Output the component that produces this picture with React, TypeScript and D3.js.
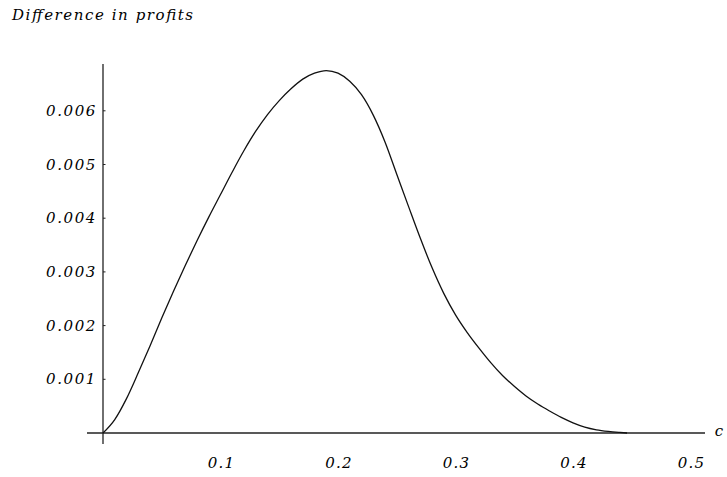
import { useEffect, useRef } from "react";
import * as d3 from "d3";

// curve: c and difference in profits (in units of 0.001)
const cValues = [
  0, 0.01, 0.02, 0.03, 0.04, 0.05, 0.06, 0.07, 0.08, 0.09,
  0.1, 0.11, 0.12, 0.13, 0.14, 0.15, 0.16, 0.17, 0.18, 0.19,
  0.2, 0.21, 0.22, 0.23, 0.24, 0.25, 0.26, 0.27, 0.28, 0.29,
  0.3, 0.31, 0.32, 0.33, 0.34, 0.35, 0.36, 0.37, 0.38, 0.39,
  0.4, 0.41, 0.42, 0.43, 0.44, 0.446,
];
const profitDiff = [
  0, 0.25, 0.64, 1.12, 1.62, 2.14, 2.64, 3.12, 3.58, 4.02,
  4.44, 4.86, 5.26, 5.62, 5.93, 6.19, 6.41, 6.59, 6.7, 6.75,
  6.7, 6.55, 6.3, 5.92, 5.42, 4.82, 4.22, 3.63, 3.08, 2.6,
  2.2, 1.87, 1.58, 1.31, 1.07, 0.87, 0.69, 0.54, 0.41, 0.29,
  0.19, 0.11, 0.06, 0.03, 0.01, 0,
].map((v) => v / 1000);

const xTicks = [0.1, 0.2, 0.3, 0.4, 0.5];
const yTicks = [0.001, 0.002, 0.003, 0.004, 0.005, 0.006];

const W = 727;
const H = 477;

const App = () => {
  const svgRef = useRef<SVGSVGElement>(null);

  useEffect(() => {
    const svg = d3.select(svgRef.current);
    svg.selectAll("*").remove();

    const font = "'DejaVu Serif', serif";

    // scales: origin at (103, 433)
    const x = d3.scaleLinear().domain([0, 0.5]).range([103, 690.5]);
    const y = d3.scaleLinear().domain([0, 0.006]).range([433, 110.8]);

    // title
    svg.append("text")
      .attr("x", 12)
      .attr("y", 20)
      .attr("textLength", 181)
      .attr("lengthAdjust", "spacing")
      .style("font-family", font)
      .style("font-style", "italic")
      .style("font-size", "15px")
      .text("Difference in profits");

    // axes
    const axisColor = "#222";
    svg.append("line")
      .attr("x1", 87).attr("x2", 705)
      .attr("y1", y(0)).attr("y2", y(0))
      .attr("stroke", axisColor).attr("stroke-width", 1.3);
    svg.append("line")
      .attr("x1", x(0)).attr("x2", x(0))
      .attr("y1", 64).attr("y2", 444)
      .attr("stroke", axisColor).attr("stroke-width", 1.3);

    // y ticks (small marks to the right of the axis)
    svg.selectAll(".ytick")
      .data(yTicks)
      .enter()
      .append("line")
      .attr("x1", x(0)).attr("x2", x(0) + 2.5)
      .attr("y1", (d) => y(d)).attr("y2", (d) => y(d))
      .attr("stroke", axisColor).attr("stroke-width", 1);

    svg.selectAll(".ylabel")
      .data(yTicks)
      .enter()
      .append("text")
      .attr("x", 97)
      .attr("y", (d) => y(d))
      .attr("text-anchor", "end")
      .attr("dominant-baseline", "central")
      .style("font-family", font)
      .style("font-style", "italic")
      .style("font-size", "15px")
      .style("letter-spacing", "1.6px")
      .text((d) => d3.format(".3f")(d));

    svg.selectAll(".xlabel")
      .data(xTicks)
      .enter()
      .append("text")
      .attr("x", (d) => x(d) + 1)
      .attr("y", 463)
      .attr("text-anchor", "middle")
      .attr("dominant-baseline", "central")
      .style("font-family", font)
      .style("font-style", "italic")
      .style("font-size", "15px")
      .style("letter-spacing", "1.2px")
      .text((d) => d3.format(".1f")(d));

    // axis label c
    svg.append("text")
      .attr("x", 719)
      .attr("y", 431)
      .attr("text-anchor", "middle")
      .attr("dominant-baseline", "central")
      .style("font-family", font)
      .style("font-style", "italic")
      .style("font-size", "15px")
      .text("c");

    // curve
    const pts: [number, number][] = cValues.map((c, i) => [c, profitDiff[i]]);
    const line = d3.line<[number, number]>()
      .x((d) => x(d[0]))
      .y((d) => y(d[1]))
      .curve(d3.curveMonotoneX);

    svg.append("path")
      .datum(pts)
      .attr("d", line)
      .attr("fill", "none")
      .attr("stroke", "#111")
      .attr("stroke-width", 1.3);
  }, []);

  return (
    <svg
      ref={svgRef}
      width={W}
      height={H}
      style={{ position: "absolute", left: 0, top: 0, background: "#fff" }}
    />
  );
};

export default App;
